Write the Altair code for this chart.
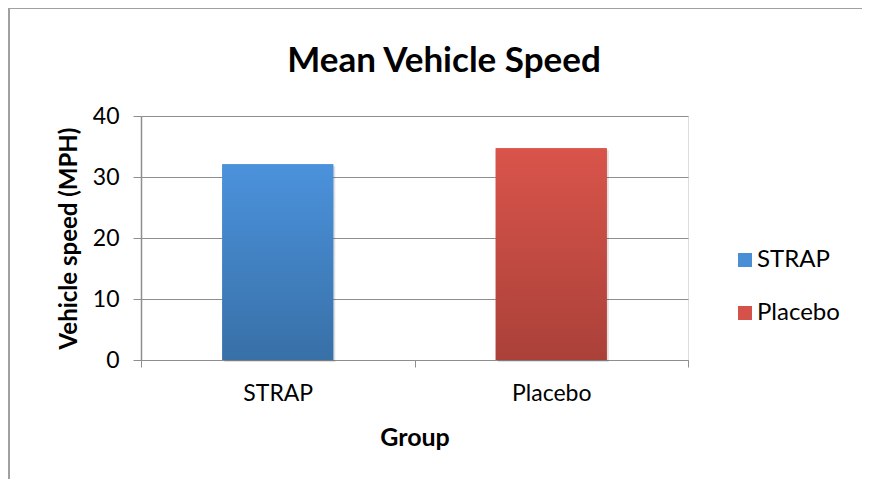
import altair as alt
import pandas as pd

groups = ["STRAP", "Placebo"]
speeds = [32.1, 34.7]
solid_colors = ["#4a8fd5", "#d5524a"]
grad_top = ["#4b92dc", "#d9544b"]
grad_bottom = ["#3870a7", "#aa4139"]
title_text = "Mean Vehicle Speed"

df = pd.DataFrame({"Group": groups, "Speed": speeds})

FONT = "Lato"
GRID = "#8e8e8e"

x_enc = alt.X(
    "Group:N",
    sort=groups,
    scale=alt.Scale(paddingInner=0, paddingOuter=0),
    axis=alt.Axis(
        title="Group",
        tickBand="extent",
        grid=False,
        domainColor=GRID,
        tickColor=GRID,
        tickSize=7,
        labelFont=FONT,
        labelFontSize=23,
        labelColor="#000000",
        labelAngle=0,
        labelBaseline="middle",
        labelPadding=26,
        titleFont=FONT,
        titleFontSize=25,
        titleFontWeight="bold",
        titleColor="#000000",
        titleBaseline="middle",
        titleY=77,
    ),
)

y_enc = alt.Y(
    "Speed:Q",
    scale=alt.Scale(domain=[0, 40]),
    axis=alt.Axis(
        title="Vehicle speed (MPH)",
        values=[0, 10, 20, 30, 40],
        grid=True,
        gridColor=GRID,
        gridWidth=1,
        domainColor=GRID,
        domainWidth=1.5,
        tickColor=GRID,
        tickSize=8,
        labelFont=FONT,
        labelFontSize=23,
        labelColor="#000000",
        labelPadding=14,
        titleFont=FONT,
        titleFontSize=24,
        titleFontWeight="bold",
        titleColor="#000000",
        titleBaseline="middle",
        titleAlign="center",
        titleAngle=-90,
        titleX=-72,
        titleY=122,
    ),
)

base = alt.Chart(df)

frame_top = base.mark_rule(color="#a0a0a0", strokeWidth=2).encode(
    x=alt.value(-132), x2=alt.value(721), y=alt.value(-108)
)
frame_left = base.mark_rule(color="#a0a0a0", strokeWidth=2).encode(
    x=alt.value(-132), y=alt.value(-108), y2=alt.value(363)
)

title_mark = alt.Chart(pd.DataFrame({"t": [title_text]})).mark_text(
    font=FONT, fontSize=35, fontWeight="bold", color="#000000",
    align="center", baseline="alphabetic",
).encode(text="t:N", x=alt.value(303), y=alt.value(-44))

shadow = base.mark_bar(
    color="#000000", opacity=0.12, xOffset=2, yOffset=2,
    width=alt.RelativeBandSize(0.406),
).encode(x=x_enc, y=y_enc)

legend_bars = base.mark_bar(width=alt.RelativeBandSize(0.406)).encode(
    x=x_enc,
    y=y_enc,
    color=alt.Color(
        "Group:N",
        sort=groups,
        scale=alt.Scale(domain=groups, range=solid_colors),
        legend=alt.Legend(
            title=None,
            orient="none",
            legendX=592,
            legendY=132,
            symbolType="square",
            symbolSize=196,
            symbolStrokeWidth=0,
            labelFont=FONT,
            labelFontSize=24,
            labelColor="#000000",
            labelOffset=0,
            rowPadding=29,
        ),
    ),
)

layers = [frame_top, frame_left, title_mark, shadow, legend_bars]
for g, top, bot in zip(groups, grad_top, grad_bottom):
    layers.append(
        base.transform_filter(alt.datum.Group == g).mark_bar(
            width=alt.RelativeBandSize(0.406),
            color=alt.Gradient(
                gradient="linear",
                stops=[alt.GradientStop(color=top, offset=0),
                       alt.GradientStop(color=bot, offset=1)],
                x1=0, x2=0, y1=0, y2=1,
            ),
        ).encode(x=x_enc, y=y_enc)
    )

chart = alt.layer(*layers).properties(
    width=547,
    height=244,
    autosize=alt.AutoSizeParams(type="none"),
    padding={"left": 133, "top": 108, "right": 174, "bottom": 119},
).configure_view(stroke=None).configure(background="#ffffff")

chart.save("out.html", embed_options={"renderer": "svg", "actions": False})
